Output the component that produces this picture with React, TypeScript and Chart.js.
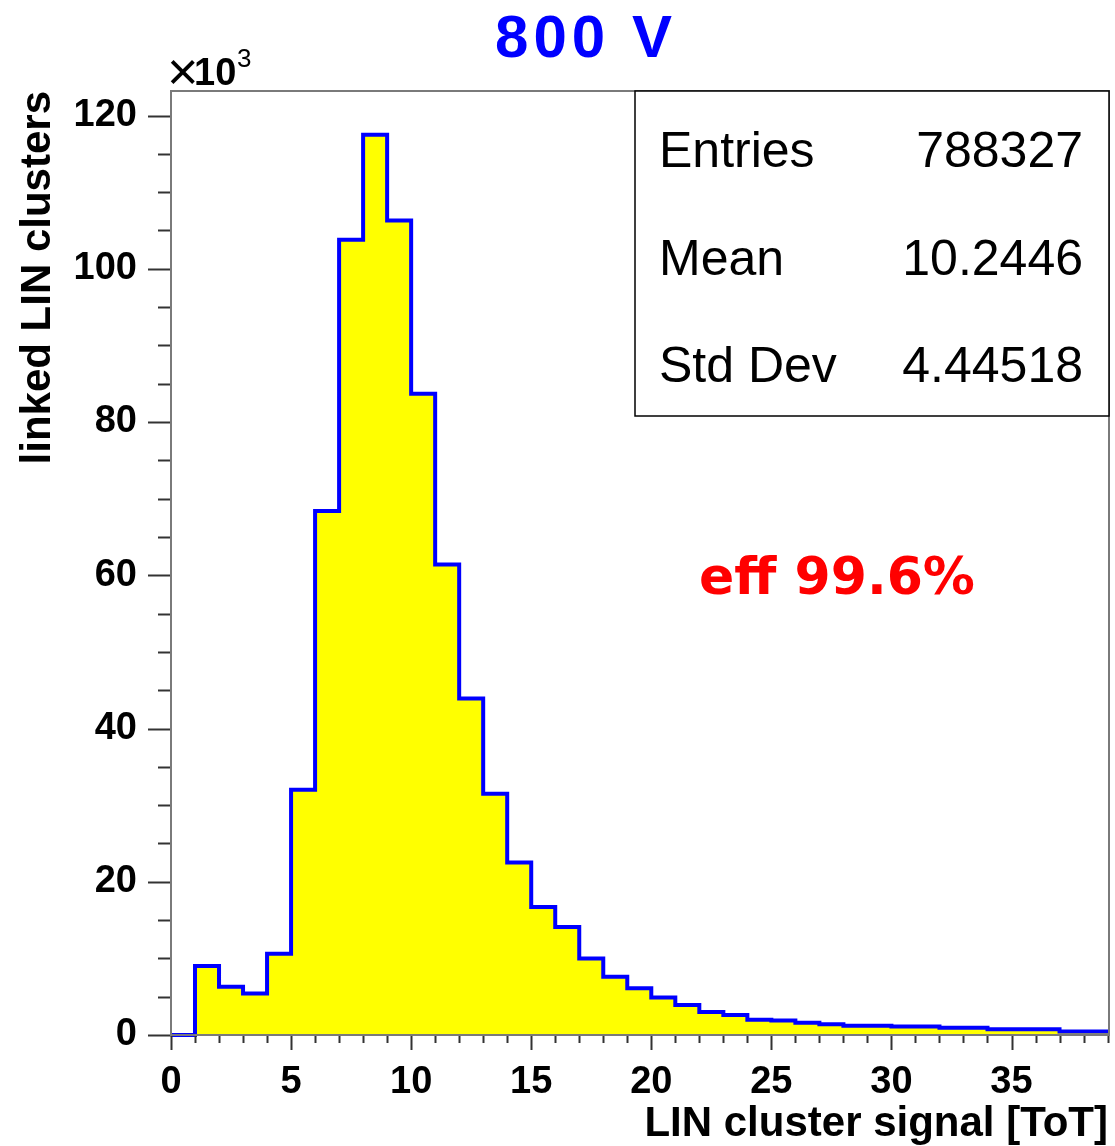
import React, { useEffect, useRef } from "react";
import { Chart, registerables } from "chart.js";

Chart.register(...registerables);

// Histogram binning (ToT units) and bin contents (in units of 10^3 clusters)
const binLowEdges = [
  0, 1, 2, 3, 4, 5, 6, 7, 8, 9, 10, 11, 12, 13, 14, 15, 16, 17, 18, 19,
  20, 21, 22, 23, 24, 25, 26, 27, 28, 29, 30, 31, 32, 33, 34, 35, 36, 37, 38, 39,
];
const binWidth = 1;
const countsK = [
  0, 9.0, 6.3, 5.4, 10.6, 32.0, 68.4, 103.8, 117.5, 106.3,
  83.7, 61.4, 43.9, 31.5, 22.5, 16.7, 14.1, 10.0, 7.6, 6.1,
  4.9, 3.9, 3.0, 2.6, 2.0, 1.9, 1.6, 1.4, 1.2, 1.2,
  1.1, 1.1, 0.95, 0.95, 0.75, 0.75, 0.75, 0.45, 0.45, 0.45,
];

const xRange = [0, 39.06];
const yRange = [0, 123.2];
const xMajorTicks = [0, 5, 10, 15, 20, 25, 30, 35];
const xMinorStep = 1;
const yMajorTicks = [0, 20, 40, 60, 80, 100, 120];
const yMinorStep = 5;

const titleText = "800 V";
const effText = "eff 99.6%";
const xTitle = "LIN cluster signal [ToT]";
const yTitle = "linked LIN clusters";
const statsLabels = ["Entries", "Mean", "Std Dev"];
const statsValues = ["788327", "10.2446", "4.44518"];

const W = 1115;
const H = 1146;

const decorations = {
  id: "rootStyle",
  afterDraw(chart: any) {
    const { ctx, chartArea } = chart;
    const xs = chart.scales.x;
    const ys = chart.scales.y;
    const { left, right, top, bottom } = chartArea;
    ctx.save();

    // ticks
    ctx.strokeStyle = "#333333";
    ctx.lineWidth = 2;
    for (let v = xRange[0]; v <= xRange[1]; v += xMinorStep) {
      const px = Math.round(xs.getPixelForValue(v)) + 0.5;
      const major = xMajorTicks.includes(v);
      ctx.beginPath();
      ctx.moveTo(px, bottom);
      ctx.lineTo(px, bottom + (major ? 15 : 8));
      ctx.stroke();
    }
    for (let v = yRange[0]; v <= yRange[1]; v += yMinorStep) {
      const py = Math.round(ys.getPixelForValue(v)) + 0.5;
      const major = yMajorTicks.includes(v);
      ctx.beginPath();
      ctx.moveTo(left, py);
      ctx.lineTo(left - (major ? 23 : 13), py);
      ctx.stroke();
    }

    // frame
    ctx.strokeStyle = "#7a7a7a";
    ctx.lineWidth = 2;
    ctx.strokeRect(left, top, right - left, bottom - top);

    // tick labels
    ctx.fillStyle = "#000";
    ctx.font = 'bold 38px "Liberation Sans", Arial, sans-serif';
    ctx.textAlign = "center";
    ctx.textBaseline = "middle";
    xMajorTicks.forEach((v) => {
      ctx.fillText(String(v), xs.getPixelForValue(v), bottom + 48);
    });
    ctx.textAlign = "right";
    yMajorTicks.forEach((v) => {
      ctx.fillText(String(v), left - 34, ys.getPixelForValue(v));
    });

    // axis titles
    ctx.font = 'bold 42px "Liberation Sans", Arial, sans-serif';
    ctx.textAlign = "right";
    ctx.textBaseline = "alphabetic";
    ctx.fillText(xTitle, right - 1, H - 10);
    ctx.save();
    ctx.translate(50, top);
    ctx.rotate(-Math.PI / 2);
    ctx.fillText(yTitle, 0, 0);
    ctx.restore();

    // exponent label
    ctx.textAlign = "left";
    ctx.font = '54px "Liberation Sans", Arial, sans-serif';
    ctx.fillText("\u00d7", left - 4, top - 1);
    ctx.font = 'bold 38px "Liberation Sans", Arial, sans-serif';
    ctx.fillText("10", left + 23, top - 6);
    ctx.font = '26px "Liberation Sans", Arial, sans-serif';
    ctx.fillText("3", left + 66, top - 24);

    // statistics box
    const bx = 635;
    ctx.fillStyle = "#fff";
    ctx.fillRect(bx, top, right - bx, 416 - top);
    ctx.strokeStyle = "#000";
    ctx.lineWidth = 1.5;
    ctx.strokeRect(bx, top, right - bx, 416 - top);
    ctx.fillStyle = "#000";
    ctx.font = '50px "Liberation Sans", Arial, sans-serif';
    const rowBase = [167, 275, 382];
    statsLabels.forEach((lab, i) => {
      ctx.textAlign = "left";
      ctx.fillText(lab, 659, rowBase[i]);
      ctx.textAlign = "right";
      ctx.fillText(statsValues[i], 1083, rowBase[i]);
    });

    // title
    ctx.fillStyle = "#0000ff";
    ctx.font = 'bold 60px "Liberation Sans", Arial, sans-serif';
    (ctx as any).letterSpacing = "5px";
    ctx.textAlign = "center";
    ctx.fillText(titleText, 586, 57);
    (ctx as any).letterSpacing = "0px";

    // efficiency note
    ctx.fillStyle = "#ff0000";
    ctx.font = 'bold 52px "DejaVu Sans", sans-serif';
    ctx.textAlign = "center";
    ctx.fillText(effText, 837, 594);

    ctx.restore();
  },
};

export default function App() {
  const canvasRef = useRef<HTMLCanvasElement | null>(null);

  useEffect(() => {
    document.body.style.margin = "0";
    const canvas = canvasRef.current;
    if (!canvas) return;

    const points = binLowEdges.map((x, i) => ({ x, y: countsK[i] }));
    const lastIdx = binLowEdges.length - 1;
    points.push({ x: binLowEdges[lastIdx] + binWidth, y: countsK[lastIdx] });

    const chart = new Chart(canvas, {
      type: "line",
      data: {
        datasets: [
          {
            data: points,
            // horizontal at each bin's content across [low edge, next edge]
            stepped: "before",
            borderColor: "#0000ff",
            borderWidth: 4,
            backgroundColor: "#ffff00",
            fill: "origin",
            pointRadius: 0,
            borderJoinStyle: "miter",
            clip: { left: 3, right: 0, top: 3, bottom: 3 },
          },
        ],
      },
      options: {
        responsive: false,
        animation: false,
        events: [],
        layout: { padding: { left: 171, right: 6, top: 91, bottom: 111 } },
        plugins: { legend: { display: false }, tooltip: { enabled: false } },
        scales: {
          x: { type: "linear", min: xRange[0], max: xRange[1], display: false },
          y: { type: "linear", min: yRange[0], max: yRange[1], display: false },
        },
      },
      plugins: [decorations],
    });

    return () => chart.destroy();
  }, []);

  return (
    <div style={{ width: W, height: H, background: "#fff" }}>
      <canvas ref={canvasRef} width={W} height={H} style={{ display: "block" }} />
    </div>
  );
}
